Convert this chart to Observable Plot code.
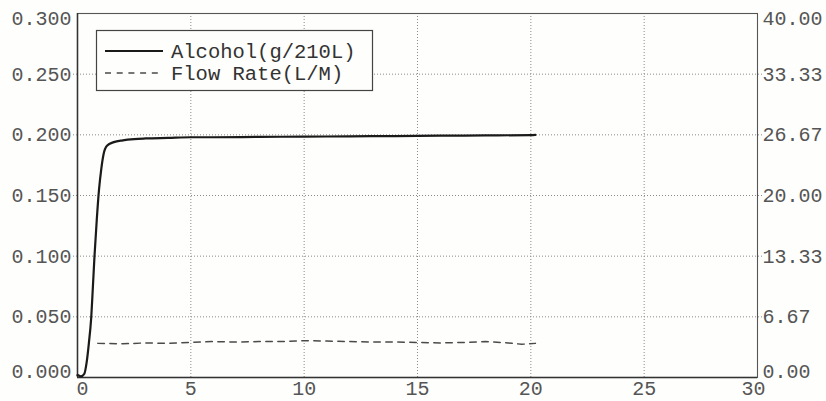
<!DOCTYPE html>
<html>
<head>
<meta charset="utf-8">
<script src="https://cdn.jsdelivr.net/npm/d3@7"></script>
<script src="https://cdn.jsdelivr.net/npm/@observablehq/plot@0.6"></script>
<style>
  html, body { margin: 0; padding: 0; background: #fefefc; }
  #wrap { position: relative; width: 826px; height: 401px; overflow: hidden; }
  #legend { position: absolute; left: 0; top: 0; }
</style>
</head>
<body>
<div id="wrap"></div>
<script>
// ---- data ----
const alcoholTime = [0, 0.15, 0.3, 0.4, 0.5, 0.6, 0.68, 0.75, 0.85, 0.95, 1.05, 1.15, 1.3, 1.6, 2.0, 2.5, 3.0, 4.0, 5.0, 6.0, 8.0, 10.0, 12.0, 14.0, 16.0, 18.0, 20.0, 20.2];
const alcoholValue = [0.002, 0.001, 0.003, 0.012, 0.028, 0.048, 0.075, 0.1, 0.13, 0.155, 0.172, 0.184, 0.191, 0.194, 0.1955, 0.1965, 0.197, 0.1975, 0.198, 0.198, 0.1983, 0.1985, 0.1988, 0.199, 0.1993, 0.1995, 0.1998, 0.2];
const flowTime = [0.9, 2, 3, 4, 5, 6, 7, 8, 9, 10, 11, 12, 13, 14, 15, 16, 17, 18, 19, 19.6, 20.2];
const flowValue = [3.75, 3.7, 3.8, 3.75, 3.85, 3.95, 3.9, 3.95, 3.95, 4.05, 4.0, 3.95, 3.9, 3.9, 3.85, 3.8, 3.85, 3.95, 3.8, 3.65, 3.75];
const xTicks = [0, 5, 10, 15, 20, 25, 30];
const yTicks = [0, 0.05, 0.10, 0.15, 0.20, 0.25, 0.30];
const yRightLabels = ["0.00", "6.67", "13.33", "20.00", "26.67", "33.33", "40.00"];
const legendLabels = ["Alcohol(g/210L)", "Flow Rate(L/M)"];

const yMax = 0.3, flowMax = 40;
const alcohol = alcoholTime.map((t, i) => ({t, v: alcoholValue[i]}));
const flow = flowTime.map((t, i) => ({t, v: flowValue[i] * yMax / flowMax}));
const rightLabel = v => yRightLabels[yTicks.findIndex(t => Math.abs(t - v) < 1e-9)];

const font = "Liberation Mono, Courier New, monospace";
const labelColor = "#555";
const gridStyle = {stroke: "#8a8a8a", strokeDasharray: "1,2", strokeOpacity: 1};

const midY = yTicks.slice(1, -1);
const midX = xTicks.slice(1, -1);

const chart = Plot.plot({
  width: 826,
  height: 401,
  marginLeft: 77,
  marginRight: 69,
  marginTop: 13,
  marginBottom: 24,
  style: {fontFamily: font, fontSize: "20px", background: "#fefefc", color: labelColor},
  x: {domain: [0, 30], label: null},
  y: {domain: [0, yMax], label: null},
  marks: [
    Plot.gridX(midX, {...gridStyle}),
    Plot.gridY(midY, {...gridStyle}),
    // left axis
    Plot.axisY(midY, {anchor: "left", label: null, tickSize: 5, tickPadding: 1, tickFormat: d3.format(".3f"), stroke: "#8a8a8a", strokeDasharray: "1,2", fill: labelColor}),
    Plot.axisY([yMax], {anchor: "left", label: null, tickSize: 0, tickPadding: 6, dy: 5, tickFormat: d3.format(".3f"), fill: labelColor}),
    Plot.axisY([0], {anchor: "left", label: null, tickSize: 0, tickPadding: 6, dy: -6, tickFormat: d3.format(".3f"), fill: labelColor}),
    // right axis
    Plot.axisY(midY, {anchor: "right", label: null, tickSize: 4, tickPadding: 1, tickFormat: rightLabel, stroke: "#8a8a8a", strokeDasharray: "1,2", fill: labelColor}),
    Plot.axisY([yMax], {anchor: "right", label: null, tickSize: 0, tickPadding: 5, dy: 5, tickFormat: rightLabel, fill: labelColor}),
    Plot.axisY([0], {anchor: "right", label: null, tickSize: 0, tickPadding: 5, dy: -6, tickFormat: rightLabel, fill: labelColor}),
    // bottom axis
    Plot.axisX(midX, {anchor: "bottom", label: null, tickSize: 0, tickPadding: 3, fill: labelColor}),
    Plot.axisX([0], {anchor: "bottom", label: null, tickSize: 0, tickPadding: 3, dx: 5, fill: labelColor}),
    Plot.axisX([30], {anchor: "bottom", label: null, tickSize: 0, tickPadding: 3, dx: -4, fill: labelColor}),
    Plot.frame({stroke: "#555", strokeWidth: 1.1}),
    Plot.ruleX([0], {stroke: "#333", strokeWidth: 1.5}),
    Plot.ruleY([0], {stroke: "#333", strokeWidth: 1.5}),
    Plot.line(flow, {x: "t", y: "v", stroke: "#4a4a4a", strokeWidth: 1.5, strokeDasharray: "6.5,5.5"}),
    Plot.line(alcohol, {x: "t", y: "v", stroke: "#1a1a1a", strokeWidth: 2.2, curve: "monotone-x"})
  ]
});

const wrap = document.getElementById("wrap");
wrap.appendChild(chart);

// legend overlay (inside plot area, top-left)
const ns = "http://www.w3.org/2000/svg";
const lg = document.createElementNS(ns, "svg");
lg.setAttribute("id", "legend");
lg.setAttribute("width", 826);
lg.setAttribute("height", 401);
lg.style.pointerEvents = "none";
const box = document.createElementNS(ns, "rect");
box.setAttribute("x", 96.5); box.setAttribute("y", 30.5);
box.setAttribute("width", 276); box.setAttribute("height", 60);
box.setAttribute("fill", "#fefefc"); box.setAttribute("stroke", "#444"); box.setAttribute("stroke-width", 1.2);
lg.appendChild(box);
const rows = [
  {y: 51, dash: null, w: 2.2, c: "#1a1a1a"},
  {y: 73, dash: "6,5.7", w: 1.5, c: "#4a4a4a"}
];
rows.forEach((r, i) => {
  const ln = document.createElementNS(ns, "line");
  ln.setAttribute("x1", 105); ln.setAttribute("x2", 163);
  ln.setAttribute("y1", r.y); ln.setAttribute("y2", r.y);
  ln.setAttribute("stroke", r.c); ln.setAttribute("stroke-width", r.w);
  if (r.dash) ln.setAttribute("stroke-dasharray", r.dash);
  lg.appendChild(ln);
  const tx = document.createElementNS(ns, "text");
  tx.setAttribute("x", 171); tx.setAttribute("y", r.y + 6.5);
  tx.setAttribute("font-family", font); tx.setAttribute("font-size", 20.5);
  tx.setAttribute("fill", "#333");
  tx.textContent = legendLabels[i];
  lg.appendChild(tx);
});
wrap.appendChild(lg);
</script>
</body>
</html>
